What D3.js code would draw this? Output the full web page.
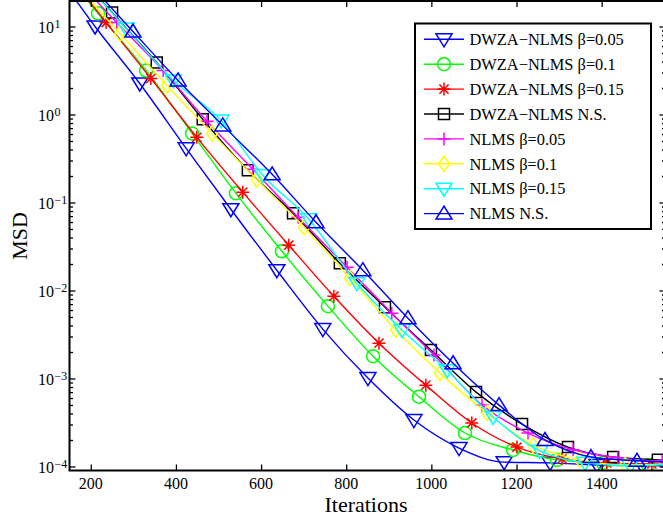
<!DOCTYPE html>
<html>
<head>
<meta charset="utf-8">
<style>
body { margin: 0; background: #fff; }
svg { display: block; }
text { font-family: "Liberation Serif", "Times New Roman", serif; fill: #000; }
</style>
</head>
<body>
<script src="https://d3js.org/d3.v7.min.js"></script>
<script>
// tick values
var iterTicks = [200, 400, 600, 800, 1000, 1200, 1400];
var decadeTicks = [1e-4, 1e-3, 1e-2, 1e-1, 1, 10];
var decadeExp = ["\u22124", "\u22123", "\u22122", "\u22121", "0", "1"];

// DWZA-NLMS beta=0.05
var itDw05  = [150, 210, 315, 424, 529, 637, 745, 851, 959, 1065, 1171, 1279, 1389, 1495, 1550];
var msdDw05 = [25, 10.0, 2.25, 0.412, 0.0838, 0.017, 0.00364, 0.00101, 0.000337, 0.000162, 0.000112, 0.00011, 0.000104, 0.000102, 0.000102];
// DWZA-NLMS beta=0.1
var itDw10  = [150, 217, 330, 438, 541, 649, 757, 863, 971, 1079, 1192, 1295, 1403, 1509, 1550];
var msdDw10 = [35, 14.1, 3.16, 0.61, 0.127, 0.0279, 0.00664, 0.00179, 0.00062, 0.00024, 0.000154, 0.000119, 0.00011, 0.000104, 0.000104];
// DWZA-NLMS beta=0.15
var itDw15  = [150, 236, 341, 449, 557, 665, 771, 877, 987, 1095, 1201, 1307, 1412, 1518, 1550];
var msdDw15 = [37, 11.1, 2.57, 0.55, 0.131, 0.0327, 0.0086, 0.00252, 0.00084, 0.000312, 0.000166, 0.000122, 0.00011, 0.000107, 0.000106];
// DWZA-NLMS no sparsity
var itDwNS  = [150, 250, 355, 463, 569, 675, 785, 891, 999, 1105, 1213, 1321, 1427, 1532, 1550];
var msdDwNS = [50, 14.4, 3.9, 0.88, 0.232, 0.0753, 0.0204, 0.00646, 0.0021, 0.0007, 0.000303, 0.000166, 0.000128, 0.000119, 0.000117];
// NLMS beta=0.05
var itN05  = [150, 261, 370, 473, 581, 687, 802, 907, 1006, 1119, 1227, 1333, 1438, 1542, 1550];
var msdN05 = [41, 11.1, 3.16, 0.836, 0.238, 0.0679, 0.0184, 0.00552, 0.00185, 0.0005, 0.00024, 0.000155, 0.000126, 0.000115, 0.000115];
// NLMS beta=0.1
var itN10  = [150, 269, 379, 485, 590, 701, 809, 917, 1020, 1131, 1239, 1349, 1455, 1550];
var msdN10 = [36, 8.3, 2.14, 0.61, 0.182, 0.0522, 0.0138, 0.00355, 0.00115, 0.000405, 0.000175, 0.000119, 0.000104, 0.000106];
// NLMS beta=0.15
var itN15  = [150, 283, 394, 506, 604, 712, 825, 931, 1037, 1145, 1255, 1361, 1467, 1550];
var msdN15 = [49, 9.5, 2.44, 0.857, 0.204, 0.0646, 0.0121, 0.00355, 0.00124, 0.000365, 0.00015, 0.00011, 0.000102, 0.000105];
// NLMS no sparsity
var itNNS  = [150, 299, 405, 510, 626, 729, 839, 945, 1051, 1159, 1267, 1375, 1483, 1550];
var msdNNS = [54, 8.77, 2.44, 0.752, 0.209, 0.0596, 0.017, 0.00484, 0.00149, 0.000498, 0.0002, 0.000128, 0.000116, 0.000112];

var names   = ["DWZA\u2212NLMS \u03b2=0.05", "DWZA\u2212NLMS \u03b2=0.1", "DWZA\u2212NLMS \u03b2=0.15", "DWZA\u2212NLMS N.S.",
               "NLMS \u03b2=0.05", "NLMS \u03b2=0.1", "NLMS \u03b2=0.15", "NLMS N.S."];
var colors  = ["#0000ff", "#00ff00", "#ff0000", "#000000", "#ff00ff", "#ffff00", "#00ffff", "#0000ff"];
var symbols = ["tridown", "circle", "star", "square", "plus", "diamond", "tridown", "triup"];
var iters   = [itDw05, itDw10, itDw15, itDwNS, itN05, itN10, itN15, itNNS];
var msds    = [msdDw05, msdDw10, msdDw15, msdDwNS, msdN05, msdN10, msdN15, msdNNS];

var xMin = 150, xMax = 1550;
var pLeft = 69.5, pRight = 665.5, pTop = 1, pBottom = 470.5;
var x = d3.scaleLinear().domain([xMin, xMax]).range([pLeft, pRight]);
var y = d3.scaleLog().domain([9e-5, 20]).range([pBottom, 0]);

var svg = d3.select("body").append("svg")
    .attr("width", 663)
    .attr("height", 518);

svg.append("clipPath").attr("id", "plotclip")
  .append("rect")
    .attr("x", pLeft).attr("y", pTop)
    .attr("width", pRight - pLeft).attr("height", pBottom - pTop);

// marker path generator
function markerPath(kind) {
    switch (kind) {
        case "triup":   return "M0,-7.5L8,5.5L-8,5.5Z";
        case "tridown": return "M0,7.5L8,-5.5L-8,-5.5Z";
        case "circle":  return "M6.5,0A6.5,6.5 0 1,1 -6.5,0A6.5,6.5 0 1,1 6.5,0Z";
        case "square":  return "M-5.5,-5.5H5.5V5.5H-5.5Z";
        case "diamond": return "M0,-7.5L5.5,0L0,7.5L-5.5,0Z";
        case "plus":    return "M-6.5,0H6.5M0,-6.5V6.5";
        case "star":    return "M-6.5,0H6.5M0,-6.5V6.5M-4.6,-4.6L4.6,4.6M-4.6,4.6L4.6,-4.6";
    }
}

var plot = svg.append("g").attr("clip-path", "url(#plotclip)");

var line = d3.line()
    .x(function (d) { return x(d[0]); })
    .y(function (d) { return y(d[1]); })
    .curve(d3.curveMonotoneX);

for (var s = 0; s < names.length; s++) {
    var pts = iters[s].map(function (it, i) { return [it, msds[s][i]]; });
    plot.append("path")
        .attr("d", line(pts))
        .attr("fill", "none")
        .attr("stroke", colors[s])
        .attr("stroke-width", 1.4);
    var mk = pts.filter(function (p) { return p[0] > xMin && p[0] < xMax; });
    plot.selectAll(null).data(mk).enter().append("path")
        .attr("transform", function (d) { return "translate(" + x(d[0]) + "," + y(d[1]) + ")"; })
        .attr("d", markerPath(symbols[s]))
        .attr("fill", "none")
        .attr("stroke", colors[s])
        .attr("stroke-width", 1.5);
}

// axes with inward ticks
var minorTicks = [];
for (var k = -5; k <= 1; k++) {
    for (var m = 2; m <= 9; m++) {
        var v = m * Math.pow(10, k);
        if (v > 9e-5 && v < 20) minorTicks.push(v);
    }
}

function styleAxis(g) {
    g.select(".domain").remove();
    g.selectAll(".tick line").attr("stroke", "#000").attr("stroke-width", 1.3);
    g.selectAll(".tick text").remove();
}

svg.append("g").attr("transform", "translate(0," + pBottom + ")")
    .call(d3.axisBottom(x).tickValues(iterTicks).tickSize(-6)).call(styleAxis);
svg.append("g").attr("transform", "translate(0," + pTop + ")")
    .call(d3.axisTop(x).tickValues(iterTicks).tickSize(-6)).call(styleAxis);
svg.append("g").attr("transform", "translate(" + pLeft + ",0)")
    .call(d3.axisLeft(y).tickValues(decadeTicks).tickSize(-6)).call(styleAxis);
svg.append("g").attr("transform", "translate(" + pLeft + ",0)")
    .call(d3.axisLeft(y).tickValues(minorTicks).tickSize(-3.5)).call(styleAxis);
svg.append("g").attr("transform", "translate(" + pRight + ",0)")
    .call(d3.axisRight(y).tickValues(decadeTicks).tickSize(-6)).call(styleAxis);
svg.append("g").attr("transform", "translate(" + pRight + ",0)")
    .call(d3.axisRight(y).tickValues(minorTicks).tickSize(-3.5)).call(styleAxis);

// frame
svg.append("rect")
    .attr("x", pLeft).attr("y", pTop)
    .attr("width", pRight - pLeft).attr("height", pBottom - pTop)
    .attr("fill", "none").attr("stroke", "#000").attr("stroke-width", 2);

// tick labels
svg.selectAll(null).data(iterTicks).enter().append("text")
    .attr("x", function (d) { return x(d); })
    .attr("y", 489)
    .attr("text-anchor", "middle")
    .style("font-size", "16px")
    .text(function (d) { return d; });

decadeTicks.forEach(function (d, i) {
    svg.append("text")
        .attr("x", 54).attr("y", y(d) + 7)
        .attr("text-anchor", "end")
        .style("font-size", "16px")
        .text("10");
    svg.append("text")
        .attr("x", 54.5).attr("y", y(d) + 2)
        .attr("text-anchor", "start")
        .style("font-size", "12px")
        .text(decadeExp[i]);
});

// axis titles
svg.append("text")
    .attr("x", 366).attr("y", 512)
    .attr("text-anchor", "middle")
    .style("font-size", "22px")
    .text("Iterations");
svg.append("text")
    .attr("transform", "translate(26.5,236) rotate(-90)")
    .attr("text-anchor", "middle")
    .style("font-size", "22px")
    .text("MSD");

// legend
var lg = svg.append("g");
lg.append("rect")
    .attr("x", 415).attr("y", 23.5)
    .attr("width", 236).attr("height", 205.5)
    .attr("fill", "#fff").attr("stroke", "#000").attr("stroke-width", 2);
names.forEach(function (nm, i) {
    var cy = 39.3 + i * 24.9;
    lg.append("line")
        .attr("x1", 424).attr("x2", 464)
        .attr("y1", cy).attr("y2", cy)
        .attr("stroke", colors[i]).attr("stroke-width", 1.4);
    lg.append("path")
        .attr("transform", "translate(444," + cy + ")")
        .attr("d", markerPath(symbols[i]))
        .attr("fill", "none")
        .attr("stroke", colors[i]).attr("stroke-width", 1.5);
    lg.append("text")
        .attr("x", 469.5).attr("y", cy + 5.7)
        .style("font-size", "16.4px")
        .text(nm);
});
</script>
</body>
</html>
